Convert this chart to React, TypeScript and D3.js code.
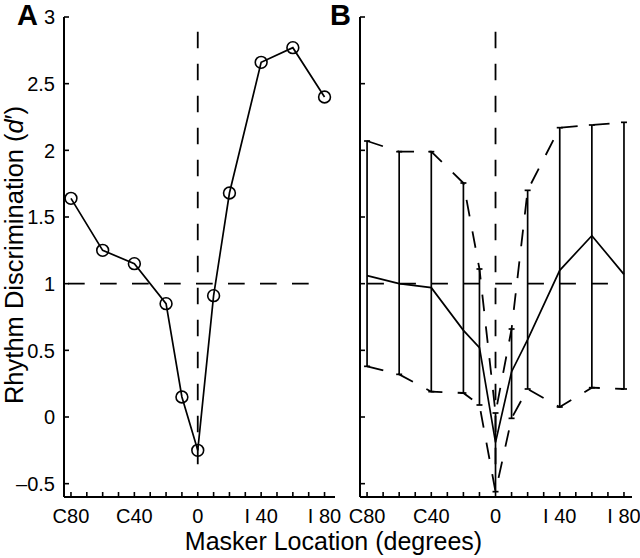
import React from "react";
import * as d3 from "d3";

// Masker locations (degrees; negative = contralateral "C", positive = ipsilateral "I")
const angles = [-80, -60, -40, -20, -10, 0, 10, 20, 40, 60, 80];
// Panel A: d' per location
const dprimeA = [1.64, 1.25, 1.15, 0.85, 0.15, -0.25, 0.91, 1.68, 2.66, 2.77, 2.4];
// Panel B: mean and bounds
const meanB = [1.06, 1.0, 0.97, 0.65, 0.52, -0.19, 0.34, 0.58, 1.1, 1.36, 1.07];
const upperB = [2.07, 1.99, 1.99, 1.755, 1.11, 0.03, 0.66, 1.7, 2.17, 2.19, 2.21];
const lowerB = [0.38, 0.32, 0.19, 0.18, 0.09, -0.56, -0.01, 0.21, 0.075, 0.22, 0.21];

const xMinorTicks = [-80, -70, -60, -50, -40, -30, -20, -10, 0, 10, 20, 30, 40, 50, 60, 70, 80];
const xLabelTicks = [-80, -40, 0, 40, 80];
const xTickLabels = ["C80", "C40", "0", "I 40", "I 80"];
const yTicks = [-0.5, 0, 0.5, 1, 1.5, 2, 2.5, 3];
const yTickLabels = ["\u20130.5", "0", "0.5", "1", "1.5", "2", "2.5", "3"];

const FONT = "'Liberation Sans', Arial, Helvetica, sans-serif";
const DASH = "16.7,15.3";

const yScale = d3.scaleLinear().domain([-0.6, 3]).range([497, 17]);
const xA = d3.scaleLinear().domain([-84.4, 86.6]).range([64, 335]);
const xB = d3.scaleLinear().domain([-84.4, 85]).range([360, 632]);

type Scale = d3.ScaleLinear<number, number>;

function Axes({ x, showYLabels }: { x: Scale; showYLabels: boolean }) {
  const [x0, x1] = x.range();
  const [yb, yt] = yScale.range();
  return (
    <g>
      <line x1={x0} x2={x0} y1={yb} y2={yt} stroke="#000" strokeWidth={2} />
      <line x1={x0} x2={x1} y1={yb} y2={yb} stroke="#000" strokeWidth={2} />
      {yTicks.map((t, i) => (
        <g key={"y" + t}>
          <line x1={x0} x2={x0 + 5} y1={yScale(t)} y2={yScale(t)} stroke="#000" strokeWidth={1.6} />
          {showYLabels && (
            <text
              x={x0 - 9}
              y={yScale(t)}
              dy="0.36em"
              textAnchor="end"
              fontSize={20}
              fontFamily={FONT}
            >
              {yTickLabels[i]}
            </text>
          )}
        </g>
      ))}
      {xMinorTicks.map((t) => (
        <line key={"x" + t} x1={x(t)} x2={x(t)} y1={yb} y2={yb - 5} stroke="#000" strokeWidth={1.6} />
      ))}
      {xLabelTicks.map((t, i) => (
        <text key={"xl" + t} x={x(t)} y={523} textAnchor="middle" fontSize={20} fontFamily={FONT}>
          {xTickLabels[i]}
        </text>
      ))}
    </g>
  );
}

function RefLines({ x }: { x: Scale }) {
  const vPath = `M${x(0)},${yScale(-0.355)}L${x(0)},${yScale(3)}`;
  const hPath = `M${x(70)},${yScale(1)}L${x.range()[0]},${yScale(1)}`;
  return (
    <g fill="none" stroke="#000" strokeWidth={1.8} strokeDasharray={DASH}>
      <path d={vPath} />
      <path d={hPath} />
    </g>
  );
}

export default function App() {
  const lineA = d3
    .line<number>()
    .x((_, i) => xA(angles[i]))
    .y((d) => yScale(d));
  const lineB = d3
    .line<number>()
    .x((_, i) => xB(angles[i]))
    .y((d) => yScale(d));

  return (
    <svg
      width={640}
      height={558}
      style={{ position: "absolute", left: 0, top: 0, background: "#fff" }}
    >
      <rect width={640} height={558} fill="#fff" />
      {/* Panel A */}
      <RefLines x={xA} />
      <path d={lineA(dprimeA) || ""} fill="none" stroke="#000" strokeWidth={1.7} />
      {dprimeA.map((v, i) => (
        <circle key={i} cx={xA(angles[i])} cy={yScale(v)} r={5.9} fill="none" stroke="#000" strokeWidth={1.6} />
      ))}
      <Axes x={xA} showYLabels={true} />

      {/* Panel B */}
      <RefLines x={xB} />
      <path d={lineB(upperB) || ""} fill="none" stroke="#000" strokeWidth={1.8} strokeDasharray={DASH} />
      <path d={lineB(lowerB) || ""} fill="none" stroke="#000" strokeWidth={1.8} strokeDasharray={DASH} />
      {angles.map((a, i) => (
        <g key={"eb" + a} stroke="#000" strokeWidth={1.7}>
          <line x1={xB(a)} x2={xB(a)} y1={yScale(lowerB[i])} y2={yScale(upperB[i])} />
          <line x1={xB(a) - 3} x2={xB(a) + 3} y1={yScale(lowerB[i])} y2={yScale(lowerB[i])} />
          <line x1={xB(a) - 3} x2={xB(a) + 3} y1={yScale(upperB[i])} y2={yScale(upperB[i])} />
        </g>
      ))}
      <path d={lineB(meanB) || ""} fill="none" stroke="#000" strokeWidth={1.7} />
      <Axes x={xB} showYLabels={false} />

      {/* Labels */}
      <text x={17} y={25} fontSize={29} fontWeight="bold" fontFamily={FONT}>A</text>
      <text x={330} y={25} fontSize={29} fontWeight="bold" fontFamily={FONT}>B</text>
      <text x={333.5} y={550} textAnchor="middle" fontSize={25} fontFamily={FONT}>
        Masker Location (degrees)
      </text>
      <text
        transform="translate(23,255) rotate(-90)"
        textAnchor="middle"
        fontSize={25.5}
        fontFamily={FONT}
      >
        Rhythm Discrimination (<tspan fontStyle="italic">d</tspan>′)
      </text>
    </svg>
  );
}
